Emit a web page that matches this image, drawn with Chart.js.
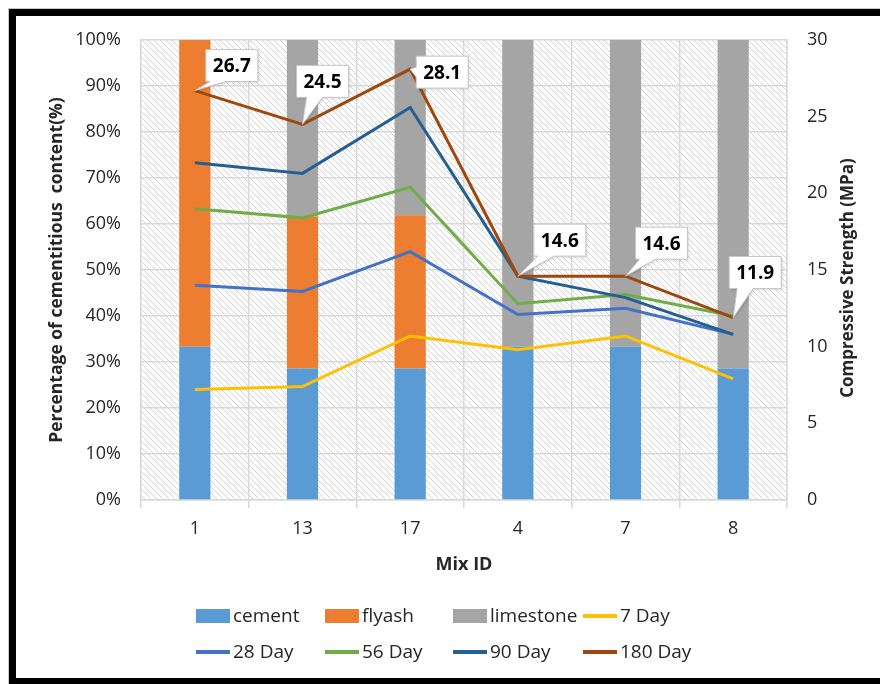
<!DOCTYPE html>
<html>
<head>
<meta charset="utf-8">
<script src="https://cdn.jsdelivr.net/npm/chart.js@4.4.1/dist/chart.umd.min.js"></script>
<style>
  html, body { margin: 0; padding: 0; background: #fff; overflow: hidden; }
  #wrap { position: relative; width: 880px; height: 684px; }
  #frame {
    position: absolute; left: 9px; top: 9px; width: 900px; height: 676px;
    box-sizing: border-box; border: 7px solid #000;
    box-shadow: 0 0 0 1px #c8c8c8; pointer-events: none;
  }
</style>
</head>
<body>
<div id="wrap">
  <canvas id="mychart" width="880" height="684"></canvas>
  <div id="frame"></div>
</div>
<script>
// --- data ---
const mixIds = ["1", "13", "17", "4", "7", "8"];

const cement    = [33.3, 28.6, 28.6, 33.3, 33.3, 28.6];
const flyash    = [66.7, 33.0, 33.3, 0, 0, 0];
const limestone = [0, 38.4, 38.1, 66.7, 66.7, 71.4];

const day7   = [7.2, 7.4, 10.7, 9.8, 10.7, 7.9];
const day28  = [14.0, 13.6, 16.2, 12.1, 12.5, 10.8];
const day56  = [19.0, 18.4, 20.4, 12.8, 13.4, 12.0];
const day90  = [22.0, 21.3, 25.6, 14.6, 13.2, 10.8];
const day180 = [26.7, 24.5, 28.1, 14.6, 14.6, 11.9];

const FONT = "'Open Sans', 'DejaVu Sans', sans-serif";
const TEXT = "#262626";

// hatch fill for plot area
function makeHatch() {
  const c = document.createElement("canvas");
  c.width = 6; c.height = 6;
  const g = c.getContext("2d");
  g.fillStyle = "#fff";
  g.fillRect(0, 0, 6, 6);
  g.strokeStyle = "#d6d6d6";
  g.lineWidth = 1;
  g.beginPath();
  g.moveTo(-1, -1); g.lineTo(7, 7);
  g.moveTo(-1, 5); g.lineTo(1, 7);
  g.moveTo(5, -1); g.lineTo(7, 1);
  g.stroke();
  return c;
}

const hatchPlugin = {
  id: "hatch",
  beforeDraw(chart) {
    const a = chart.chartArea;
    const ctx = chart.ctx;
    ctx.save();
    ctx.fillStyle = ctx.createPattern(makeHatch(), "repeat");
    ctx.fillRect(a.left, a.top, a.right - a.left, a.bottom - a.top);
    ctx.restore();
  }
};

// callout boxes for the 180 day values: [box left, box bottom] relative to point
const calloutPlugin = {
  id: "callouts",
  afterDatasetsDraw(chart) {
    const offs = [[11, -9], [-6, -27], [6, 19], [16, -20], [10, -17], [-4, -29]];
    const meta = chart.getDatasetMeta(7);
    const ctx = chart.ctx;
    ctx.save();
    ctx.font = "bold 19px " + FONT;
    meta.data.forEach((pt, i) => {
      const txt = day180[i].toFixed(1);
      const w = ctx.measureText(txt).width + 14;
      const h = 32;
      const left = pt.x + offs[i][0];
      const bottom = pt.y + offs[i][1];
      const top = bottom - h;
      // tail
      let b1, b2;
      if (pt.x < left && pt.y > top && pt.y < bottom) {
        b1 = [left, top + h * 0.35];
        b2 = [left, top + h * 0.65];
      } else {
        let bx = Math.max(left + 4, Math.min(pt.x + 4, left + w - 20));
        b1 = [bx, bottom];
        b2 = [bx + 16, bottom];
      }
      ctx.shadowColor = "rgba(0,0,0,0.18)";
      ctx.shadowBlur = 3;
      ctx.shadowOffsetX = 1;
      ctx.shadowOffsetY = 1;
      ctx.fillStyle = "#fff";
      ctx.strokeStyle = "#c6c6c6";
      ctx.lineWidth = 1;
      ctx.beginPath();
      ctx.moveTo(left, top);
      ctx.lineTo(left + w, top);
      ctx.lineTo(left + w, bottom);
      if (b1[1] === bottom) {
        ctx.lineTo(b2[0], bottom);
        ctx.lineTo(pt.x, pt.y);
        ctx.lineTo(b1[0], bottom);
        ctx.lineTo(left, bottom);
        ctx.lineTo(left, top);
      } else {
        ctx.lineTo(left, bottom);
        ctx.lineTo(left, b2[1]);
        ctx.lineTo(pt.x, pt.y);
        ctx.lineTo(left, b1[1]);
        ctx.lineTo(left, top);
      }
      ctx.closePath();
      ctx.fill();
      ctx.shadowColor = "transparent";
      ctx.stroke();
      ctx.fillStyle = "#000";
      ctx.textAlign = "center";
      ctx.textBaseline = "middle";
      ctx.fillText(txt, left + w / 2, top + h / 2 + 1);
    });
    ctx.restore();
  }
};

// right axis title reads bottom-to-top like the left one
const rightTitlePlugin = {
  id: "rightTitle",
  afterDraw(chart) {
    const a = chart.chartArea;
    const ctx = chart.ctx;
    ctx.save();
    ctx.translate(848, (a.top + a.bottom) / 2 + 8);
    ctx.rotate(-Math.PI / 2);
    ctx.font = "bold 17px " + FONT;
    ctx.fillStyle = TEXT;
    ctx.textAlign = "center";
    ctx.textBaseline = "middle";
    ctx.fillText("Compressive Strength (MPa)", 0, 0);
    ctx.restore();
  }
};

// legend in a 4 x 2 grid like the original
const legendPlugin = {
  id: "gridLegend",
  afterDraw(chart) {
    const cols = [196, 325, 453, 583];
    const rows = [616, 652];
    const ctx = chart.ctx;
    ctx.save();
    ctx.font = "19px " + FONT;
    ctx.textBaseline = "middle";
    chart.data.datasets.forEach((ds, i) => {
      const x = cols[i % 4];
      const y = rows[Math.floor(i / 4)];
      if (ds.type === "bar") {
        ctx.fillStyle = ds.backgroundColor;
        ctx.fillRect(x, y - 7, 34, 14);
      } else {
        ctx.strokeStyle = ds.borderColor;
        ctx.lineWidth = 4;
        ctx.beginPath();
        ctx.moveTo(x, y);
        ctx.lineTo(x + 34, y);
        ctx.stroke();
      }
      ctx.fillStyle = TEXT;
      ctx.fillText(ds.label, x + 37, y + 1);
    });
    ctx.restore();
  }
};

function line(label, data, color, order) {
  return {
    type: "line", label: label, data: data, yAxisID: "y1",
    borderColor: color, backgroundColor: color, borderWidth: 3,
    pointRadius: 0, tension: 0, order: order
  };
}
function bar(label, data, color) {
  return {
    type: "bar", label: label, data: data, yAxisID: "y",
    backgroundColor: color, stack: "mix", order: 10,
    barPercentage: 0.29, categoryPercentage: 1
  };
}

const chart = document.getElementById("mychart").getContext("2d");
const myChart = new Chart(chart, {
  data: {
    labels: mixIds,
    datasets: [
      bar("cement", cement, "#5B9BD5"),
      bar("flyash", flyash, "#ED7D31"),
      bar("limestone", limestone, "#A5A5A5"),
      line("7 Day", day7, "#FFC000", 5),
      line("28 Day", day28, "#4472C4", 4),
      line("56 Day", day56, "#70AD47", 3),
      line("90 Day", day90, "#255E91", 2),
      line("180 Day", day180, "#9E480E", 1)
    ]
  },
  options: {
    responsive: false,
    animation: false,
    devicePixelRatio: 1,
    layout: { padding: { left: 43, right: 18, top: 40, bottom: 100 } },
    plugins: {
      legend: { display: false },
      tooltip: { enabled: false }
    },
    scales: {
      x: {
        stacked: true,
        afterFit(s) { s.height = 84; },
        grid: { color: "#d9d9d9", lineWidth: 1.5, offset: true, tickLength: 8, tickColor: "#d9d9d9" },
        border: { color: "#d9d9d9", width: 1.5 },
        ticks: { color: TEXT, font: { family: FONT, size: 18 }, padding: 10 },
        title: { display: true, text: "Mix ID", color: TEXT, font: { family: FONT, size: 18, weight: "bold" }, padding: { top: 4, bottom: 8 } }
      },
      y: {
        position: "left",
        stacked: true,
        min: 0, max: 100,
        afterFit(s) { s.width = 98; },
        grid: { color: "#d9d9d9", lineWidth: 1.5, drawTicks: false },
        border: { color: "#d9d9d9", width: 1.5 },
        ticks: { stepSize: 10, color: TEXT, font: { family: FONT, size: 18 }, padding: 20, callback: v => v + "%" },
        title: { display: true, text: "Percentage of cementitious  content(%)", color: TEXT, font: { family: FONT, size: 17.5, weight: "bold" }, padding: { top: 4, bottom: 4 } }
      },
      y1: {
        position: "right",
        stacked: false,
        min: 0, max: 30,
        afterFit(s) { s.width = 75; },
        grid: { display: false, drawTicks: false },
        border: { color: "#d9d9d9", width: 1.5 },
        ticks: { stepSize: 5, color: TEXT, font: { family: FONT, size: 18 }, padding: 20 }
      }
    }
  },
  plugins: [hatchPlugin, calloutPlugin, rightTitlePlugin, legendPlugin]
});
</script>
</body>
</html>
